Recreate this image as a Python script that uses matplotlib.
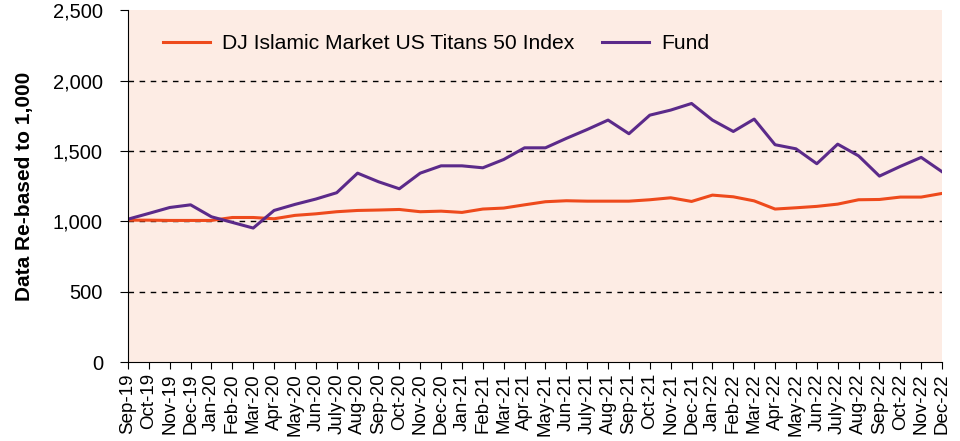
import matplotlib
matplotlib.use("Agg")
import matplotlib.pyplot as plt
from matplotlib.ticker import FuncFormatter

plt.rcParams['font.family'] = ['Liberation Sans', 'DejaVu Sans']

months = ['Sep-19', 'Oct-19', 'Nov-19', 'Dec-19',
          'Jan-20', 'Feb-20', 'Mar-20', 'Apr-20', 'May-20', 'Jun-20',
          'July-20', 'Aug-20', 'Sep-20', 'Oct-20', 'Nov-20', 'Dec-20',
          'Jan-21', 'Feb-21', 'Mar-21', 'Apr-21', 'May-21', 'Jun-21',
          'July-21', 'Aug-21', 'Sep-21', 'Oct-21', 'Nov-21', 'Dec-21',
          'Jan-22', 'Feb-22', 'Mar-22', 'Apr-22', 'May-22', 'Jun-22',
          'July-22', 'Aug-22', 'Sep-22', 'Oct-22', 'Nov-22', 'Dec-22']

index_vals = [1008, 1008, 1006, 1006, 1006, 1027, 1027, 1018, 1042, 1053,
              1068, 1077, 1080, 1084, 1068, 1072, 1063, 1087, 1094, 1117,
              1139, 1146, 1143, 1143, 1143, 1153, 1167, 1141, 1186, 1174,
              1145, 1087, 1096, 1106, 1122, 1153, 1155, 1172, 1172, 1198]

fund_vals = [1015, 1056, 1098, 1117, 1032, 992, 952, 1077, 1120, 1158,
             1203, 1342, 1281, 1231, 1342, 1394, 1394, 1380, 1439, 1522,
             1522, 1589, 1652, 1719, 1622, 1754, 1790, 1837, 1719, 1638,
             1726, 1544, 1515, 1409, 1548, 1465, 1321, 1390, 1454, 1352]

fig = plt.figure(figsize=(9.6, 4.41), dpi=100)
ax = fig.add_axes([0.1333, 0.179, 0.848, 0.798])
ax.set_facecolor('#FDECE4')

x = range(len(months))
ax.plot(x, index_vals, color='#EE4A1C', lw=2.2, label='DJ Islamic Market US Titans 50 Index')
ax.plot(x, fund_vals, color='#5B2A8A', lw=2.2, label='Fund')

ax.set_xlim(0, len(months) - 1)
ax.set_ylim(0, 2500)
ax.set_yticks(range(0, 2501, 500))
ax.yaxis.set_major_formatter(FuncFormatter(lambda v, p: f'{int(v):,}'))
ax.set_xticks(list(x))
ax.set_xticklabels(months, rotation=90, fontsize=13.5)
ax.tick_params(axis='y', labelsize=14.5, direction='out', length=6, pad=12)
ax.tick_params(axis='x', direction='out', length=5, pad=3)

for yv in range(500, 2500, 500):
    ax.axhline(yv, color='black', lw=1, ls=(0, (4, 4)), zorder=1)

for s in ['top', 'right']:
    ax.spines[s].set_visible(False)

ax.set_ylabel('Data Re-based to 1,000', fontsize=15, fontweight='bold', labelpad=14)
ax.legend(loc='upper left', ncol=2, frameon=False, fontsize=15.2,
          bbox_to_anchor=(0.02, 0.985), handlelength=2.2, columnspacing=1.3,
          handletextpad=0.6)

fig.savefig('out.png', dpi=100)
